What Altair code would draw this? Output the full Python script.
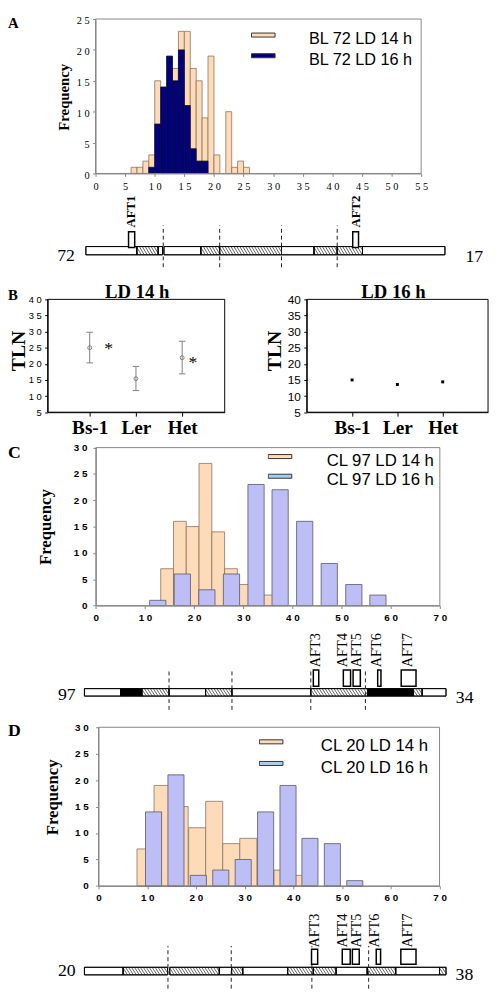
import altair as alt
import pandas as pd

# ====================== DATA ======================
# A : BL 72, leaf-number histogram (bins 1 leaf wide, left edge listed)
A_bins_14h = [6, 7, 8, 9, 10, 13, 14, 15, 16, 17, 18, 19, 20, 22, 23, 24, 25]
A_freq_14h = [1, 1, 2, 3, 15, 17, 23, 23, 17, 15, 9, 19, 3, 10, 1, 2, 1]
A_bins_16h = [9, 10, 11, 12, 13, 14, 15, 16, 17, 18]
A_freq_16h = [1, 8, 14, 19, 15, 20, 11, 4, 2, 2]
A_binwidth = 1
A_series = ["BL 72 LD 14 h", "BL 72 LD 16 h"]
A_xticks = list(range(0, 56, 5))
A_yticks = list(range(0, 26, 5))

# B : TLN of parental / heterozygous lines
B_lines = ["Bs-1", "Ler", "Het"]
B_titles = ["LD 14 h", "LD 16 h"]
B14_mean = [25.0, 15.4, 21.9]
B14_low = [20.3, 11.7, 16.9]
B14_high = [29.8, 19.2, 27.0]
B14_star_pos = [1.41, 3.23]
B14_star_val = [25.7, 21.4]
B16_mean = [15.0, 13.6, 14.4]
B_yticks = list(range(5, 41, 5))

# C : CL 97
C_bins_14h = [13.2, 15.8, 18.4, 21.0, 23.6, 26.2, 28.8, 34.0]
C_freq_14h = [7, 16, 15, 27, 14, 7, 4, 2]
C_binwidth_14h = 2.6
C_mid_16h = [12.6, 17.6, 22.6, 27.6, 32.6, 37.5, 42.5, 47.5, 52.5, 57.4]
C_freq_16h = [1, 6, 3, 6, 23, 22, 16, 8, 4, 2]
C_series = ["CL 97 LD 14 h", "CL 97 LD 16 h"]

# D : CL 20
D_bins_14h = [7.9, 11.4, 14.9, 18.5, 22.0, 25.5, 29.0, 36.0, 39.5]
D_freq_14h = [7, 19, 15, 11, 16, 8, 9, 3, 2]
D_binwidth_14h = 3.5
D_mid_16h = [11.3, 15.9, 20.5, 25.1, 29.7, 34.3, 38.9, 43.4, 48.0, 52.6]
D_freq_16h = [14, 21, 2, 3, 5, 14, 19, 9, 8, 1]
D_series = ["CL 20 LD 14 h", "CL 20 LD 16 h"]
CD_xticks = list(range(0, 71, 10))
CD_yticks = list(range(0, 31, 5))

# Chromosome schematics (position in % of bar length)
A_seg_from = [0.4, 14.5, 20.4, 22.0, 32.2, 37.4, 54.5, 63.5, 69.9, 76.9]
A_seg_to = [14.5, 20.4, 21.6, 32.2, 37.4, 54.5, 63.5, 69.9, 76.9, 99.7]
A_seg_kind = ["open", "hatch", "open", "open", "hatch", "hatch", "open", "hatch", "hatch", "open"]
A_breaks = [21.8, 37.4, 54.5, 69.9]
A_aft = ["AFT1", "AFT2"]
A_aft_from = [12.2, 74.2]
A_aft_to = [13.9, 75.8]
A_aft_label = [12.9, 75.2]
A_ends = ["72", "17"]

C_seg_from = [0, 10.0, 15.9, 23.4, 33.5, 40.8, 62.6, 78.4, 90.9, 93.4]
C_seg_to = [10.0, 15.9, 23.4, 33.5, 40.8, 62.6, 78.4, 90.9, 93.4, 100]
C_seg_kind = ["open", "solid", "hatch", "open", "hatch", "open", "hatch", "solid", "hatch", "open"]
C_breaks = [23.4, 40.8, 62.6, 77.7]
C_aft = ["AFT3", "AFT4", "AFT5", "AFT6", "AFT7"]
C_aft_from = [63.3, 71.6, 74.3, 81.1, 87.6]
C_aft_to = [64.8, 73.6, 76.3, 82.0, 91.7]
C_aft_label = [64.0, 71.4, 75.4, 80.8, 89.6]
C_ends = ["97", "34"]

D_seg_from = [0, 10.7, 23.6, 37.3, 40.7, 43.8, 56.2, 63.3, 69.6, 78.2, 86.1, 98.2]
D_seg_to = [10.7, 23.0, 37.3, 40.7, 43.8, 56.2, 63.3, 69.6, 78.2, 86.1, 98.2, 100]
D_seg_kind = ["open", "hatch", "hatch", "open", "hatch", "open", "hatch", "hatch", "open", "hatch", "open", "hatch"]
D_breaks = [23.1, 40.6, 62.9, 78.6]
D_aft = ["AFT3", "AFT4", "AFT5", "AFT6", "AFT7"]
D_aft_from = [62.8, 71.3, 74.1, 80.7, 87.5]
D_aft_to = [64.5, 73.5, 76.0, 81.9, 91.7]
D_aft_label = [63.7, 71.4, 75.5, 80.5, 89.6]
D_ends = ["20", "38"]

# ====================== LAYOUT / STYLE ======================
W, H = 490, 989
SERIF = "Liberation Serif"
SANS = "Liberation Sans"
SPACED = "length(datum.label) > 1 ? slice(datum.label, 0, 1) + ' ' + slice(datum.label, 1) : datum.label"
TAN, TAN_EDGE = "#FDDBB8", "#8A7461"
NAVY, NAVY_EDGE = "#000080", "#111111"
LAV, LAV_EDGE = "#BEBEF6", "#55556a"
SKY = "#A8CDF2"
AXGRAY = "#868686"
SWATCH = "M-1,-0.52H1V-0.18H-1Z"
COL16_W = 3.3  # drawn column width for the LD16 series in C/D

A_X, A_Y = [89, 420], [160, 3]
B1_X, B2_X, B_Y = [40.3, 220.3], [303.7, 488], [402.7, 288]
B1_DOM, B2_DOM = [0.09, 3.92], [0.0, 4.0]
C_X, C_Y = [89.3, 439], [599.3, 438.7]
D_X, D_Y = [92, 438.7], [884.3, 723]
CH_X = [77.7, 445.3]


def sc(dom, rng):
    return alt.Scale(domain=dom, range=rng, nice=False, zero=False)


def one(**kw):
    return pd.DataFrame({k: [v] for k, v in kw.items()})


def letter(t, y, size):
    return alt.Chart(one(t=t)).mark_text(
        font=SERIF, fontWeight="bold", fontSize=size, align="left", baseline="alphabetic", color="black"
    ).encode(x=alt.value(0), y=alt.value(y), text="t:N")


def hist_panel(bars, series, fills, strokes, leg_fills, xdom, ydom, xr, yr,
               xaxis, yaxis, legend, let, let_y, let_size):
    xs, ys = sc(xdom, xr), sc(ydom, yr)
    # the layer carrying the axes comes first
    hist = alt.Chart(bars).mark_rect(strokeWidth=0.8).encode(
        x=alt.X("lo:Q", scale=xs, axis=alt.Axis(**xaxis)),
        x2="hi:Q",
        y=alt.Y("n:Q", scale=ys, axis=alt.Axis(**yaxis)),
        y2=alt.Y2(datum=0),
        color=alt.Color("series:N", scale=alt.Scale(domain=series, range=fills), legend=None),
        stroke=alt.Stroke("series:N", scale=alt.Scale(domain=series, range=strokes), legend=None),
    )
    frame = alt.Chart(one(k=0)).mark_rect(fillOpacity=0, stroke=AXGRAY, strokeWidth=1).encode(
        x=alt.X(datum=xdom[0], type="quantitative", scale=xs),
        x2=alt.X2(datum=xdom[1]),
        y=alt.Y(datum=ydom[0], type="quantitative", scale=ys),
        y2=alt.Y2(datum=ydom[1]),
    )
    leg = alt.Chart(pd.DataFrame({"series": series})).mark_square(
        stroke="#333333", strokeWidth=1, opacity=1
    ).encode(
        color=alt.Color("series:N", scale=alt.Scale(domain=series, range=leg_fills),
                        legend=alt.Legend(**legend))
    ).transform_filter("false")
    return alt.layer(hist, frame, leg, letter(let, let_y, let_size)).resolve_scale(
        color="independent", stroke="independent")


def legend_kw(lx, ly, loff, clip, fs):
    return dict(orient="none", legendX=lx, legendY=ly, title=None, symbolType=SWATCH,
                symbolSize=576, symbolStrokeColor="#333333", symbolStrokeWidth=1,
                symbolOpacity=1, labelFont=SANS, labelFontSize=fs, labelColor="black",
                labelOffset=loff, clipHeight=clip, rowPadding=0, padding=0, labelLimit=0)


def axis_kw(orient, offset, values, font, size, weight, color, pad, tick, **extra):
    d = dict(orient=orient, offset=offset, values=values, labelFont=font, labelFontSize=size,
             labelFontWeight=weight, labelColor="black", labelPadding=pad, tickSize=tick,
             tickColor=color, domainColor=color, grid=False, labelOverlap=False,
             labelFlush=False, title=None)
    d.update(extra)
    return d


# ---------- Panel A ----------
A_bars = pd.concat([
    pd.DataFrame({"lo": A_bins_14h, "hi": [b + A_binwidth for b in A_bins_14h],
                  "n": A_freq_14h, "series": A_series[0]}),
    pd.DataFrame({"lo": A_bins_16h, "hi": [b + A_binwidth for b in A_bins_16h],
                  "n": A_freq_16h, "series": A_series[1]}),
], ignore_index=True)
panelA = hist_panel(
    A_bars, A_series, [TAN, NAVY], [TAN_EDGE, NAVY_EDGE], [TAN, NAVY], [0, 55], [0, 25], A_X, A_Y,
    axis_kw("bottom", A_Y[0] - H, A_xticks, SERIF, 10.5, "normal", AXGRAY, 5, 3, labelExpr=SPACED),
    axis_kw("left", -A_X[0], A_yticks, SERIF, 10.5, "normal", AXGRAY, 3.5, 3, labelExpr=SPACED,
            labelOffset=2, title="Frequency", titleFont=SERIF, titleFontSize=15, titleFontWeight="bold",
            titleColor="black", titleAngle=270, titleAlign="center", titleBaseline="middle",
            titleX=-32, titleY=82),
    legend_kw(247, 13.25, 34, 20.5, 16.5), "A", 12, 15)

# ---------- Panel C ----------
C_bars = pd.concat([
    pd.DataFrame({"lo": C_bins_14h, "hi": [b + C_binwidth_14h for b in C_bins_14h],
                  "n": C_freq_14h, "series": C_series[0]}),
    pd.DataFrame({"lo": [m - COL16_W / 2 for m in C_mid_16h], "hi": [m + COL16_W / 2 for m in C_mid_16h],
                  "n": C_freq_16h, "series": C_series[1]}),
], ignore_index=True)
panelC = hist_panel(
    C_bars, C_series, [TAN, LAV], [TAN_EDGE, LAV_EDGE], [TAN, SKY], [0, 70], [0, 30], C_X, C_Y,
    axis_kw("bottom", C_Y[0] - H, CD_xticks, SANS, 10, "bold", AXGRAY, 4, 3, labelExpr=SPACED),
    axis_kw("left", -C_X[0], CD_yticks, SANS, 10, "bold", AXGRAY, 6, 3, labelExpr=SPACED,
            title="Frequency", titleFont=SERIF, titleFontSize=17, titleFontWeight="bold",
            titleColor="black", titleAngle=270, titleAlign="center", titleBaseline="middle",
            titleX=-50.6, titleY=519),
    legend_kw(264, 442, 35, 20, 17), "C", 449, 18)

# ---------- Panel D ----------
D_bars = pd.concat([
    pd.DataFrame({"lo": D_bins_14h, "hi": [b + D_binwidth_14h for b in D_bins_14h],
                  "n": D_freq_14h, "series": D_series[0]}),
    pd.DataFrame({"lo": [m - COL16_W / 2 for m in D_mid_16h], "hi": [m + COL16_W / 2 for m in D_mid_16h],
                  "n": D_freq_16h, "series": D_series[1]}),
], ignore_index=True)
panelD = hist_panel(
    D_bars, D_series, [TAN, LAV], [TAN_EDGE, LAV_EDGE], [TAN, SKY], [0, 70], [0, 30], D_X, D_Y,
    axis_kw("bottom", D_Y[0] - H, CD_xticks, SANS, 10, "bold", AXGRAY, 4, 3, labelExpr=SPACED),
    axis_kw("left", -D_X[0], CD_yticks, SANS, 10, "bold", AXGRAY, 7.5, 3, labelExpr=SPACED,
            title="Frequency", titleFont=SERIF, titleFontSize=17, titleFontWeight="bold",
            titleColor="black", titleAngle=270, titleAlign="center", titleBaseline="middle",
            titleX=-46.7, titleY=793.7),
    legend_kw(255, 731, 38, 22, 17), "D", 732, 18)

# ---------- Panel B ----------
CAT_EXPR = "[''," + ",".join("'%s'" % c for c in B_lines) + "][datum.value]"
B_idx = [1, 2, 3]


def b_frame(xs, ys, dom):
    return alt.Chart(one(k=0)).mark_rect(fillOpacity=0, stroke="black", strokeWidth=1).encode(
        x=alt.X(datum=dom[0], type="quantitative", scale=xs), x2=alt.X2(datum=dom[1]),
        y=alt.Y(datum=5, type="quantitative", scale=ys), y2=alt.Y2(datum=40))


def b_axes(xr, ysize, tx, spaced):
    xa = axis_kw("bottom", B_Y[0] - H, B_idx, SERIF, 19.5, "bold", "black", 2.5, 4, labelExpr=CAT_EXPR)
    extra = {"labelExpr": SPACED} if spaced else {}
    ya = axis_kw("left", -xr[0], B_yticks, SANS, ysize, "normal", "black", 3.5, 3,
                 title="TLN", titleFont=SERIF, titleFontSize=20, titleFontWeight="bold",
                 titleColor="black", titleAngle=270, titleAlign="center", titleBaseline="middle",
                 titleX=tx, titleY=340, **extra)
    return alt.Axis(**xa), alt.Axis(**ya)


def b_title(xs, ys, txt, mid, dx):
    return alt.Chart(one(t=txt)).mark_text(
        font=SERIF, fontWeight="bold", fontSize=19, baseline="alphabetic", align="center", dx=dx, dy=-1,
        color="black").encode(
        x=alt.X(datum=mid, type="quantitative", scale=xs),
        y=alt.Y(datum=40, type="quantitative", scale=ys), text="t:N")


xs1, ys1 = sc(B1_DOM, B1_X), sc([5, 40], B_Y)
ax1x, ax1y = b_axes(B1_X, 9.5, 11 - B1_X[0], True)
B14 = pd.DataFrame({"i": B_idx, "m": B14_mean, "lo": B14_low, "hi": B14_high})
CAP = 0.07
B14_caps = pd.DataFrame({"c0": [i - CAP for i in B_idx] * 2, "c1": [i + CAP for i in B_idx] * 2,
                         "v": B14_low + B14_high})
b1_err = alt.Chart(B14).mark_rule(color="#808080", strokeWidth=1).encode(
    x=alt.X("i:Q", scale=xs1, axis=ax1x), y=alt.Y("lo:Q", scale=ys1, axis=ax1y), y2="hi:Q")
b1_caps = alt.Chart(B14_caps).mark_rule(color="#808080", strokeWidth=1).encode(
    x=alt.X("c0:Q", scale=xs1), x2="c1:Q", y=alt.Y("v:Q", scale=ys1))
b1_pts = alt.Chart(B14).mark_point(shape="circle", filled=False, size=16, color="#808080",
                                   strokeWidth=1, opacity=1).encode(
    x=alt.X("i:Q", scale=xs1), y=alt.Y("m:Q", scale=ys1))
b1_star = alt.Chart(pd.DataFrame({"p": B14_star_pos, "v": B14_star_val, "t": ["*", "*"]})).mark_text(
    font=SERIF, fontSize=18, baseline="alphabetic", align="center", dy=8.5, color="black").encode(
    x=alt.X("p:Q", scale=xs1), y=alt.Y("v:Q", scale=ys1), text="t:N")
panelB1 = alt.layer(b1_err, b_frame(xs1, ys1, B1_DOM), b1_caps, b1_pts, b1_star,
                    b_title(xs1, ys1, B_titles[0], sum(B1_DOM) / 2, 1), letter("B", 289, 15))

xs2, ys2 = sc(B2_DOM, B2_X), sc([5, 40], B_Y)
ax2x, ax2y = b_axes(B2_X, 12, 271.5 - B2_X[0], False)
B16 = pd.DataFrame({"i": B_idx, "m": B16_mean})
b2_pts = alt.Chart(B16).mark_square(size=9, color="black", opacity=1).encode(
    x=alt.X("i:Q", scale=xs2, axis=ax2x), y=alt.Y("m:Q", scale=ys2, axis=ax2y))
panelB2 = alt.layer(b2_pts, b_frame(xs2, ys2, B2_DOM),
                    b_title(xs2, ys2, B_titles[1], sum(B2_DOM) / 2, -4))

# ---------- Chromosome schematics ----------
PX_PER_U = (CH_X[1] - CH_X[0]) / 100.0


def hatch_lines(seg_from, seg_to, seg_kind, run_px=5.0, gap_px=3.0):
    run, gap = run_px / PX_PER_U, gap_px / PX_PER_U
    rows = []
    for a, b, k in zip(seg_from, seg_to, seg_kind):
        if k != "hatch":
            continue
        s = a - run + gap * 0.5
        while s < b:
            xa, xb = max(s, a), min(s + run, b)
            if xb > xa:
                rows.append(dict(hx1=xa, hx2=xb, hy1=1 - (xa - s) / run, hy2=1 - (xb - s) / run))
            s += gap
    return pd.DataFrame(rows)


def chrom_panel(seg_from, seg_to, seg_kind, breaks, aft, aft_from, aft_to, aft_lab, ends, lay):
    xs, ys = sc([0, 100], CH_X), sc([0, 1], lay["yr"])

    def X(f):
        return alt.X(f, scale=xs, axis=None)

    def Yd(v):
        return alt.Y(datum=v, type="quantitative", scale=ys, axis=None)

    seg = pd.DataFrame({"a": seg_from, "b": seg_to, "kind": seg_kind})
    fill = alt.Chart(seg).mark_rect(stroke="black", strokeWidth=0.8).encode(
        x=X("a:Q"), x2="b:Q", y=Yd(0), y2=alt.Y2(datum=1),
        color=alt.Color("kind:N", scale=alt.Scale(domain=["open", "hatch", "solid"],
                                                  range=["white", "white", "black"]), legend=None))
    hatch = alt.Chart(hatch_lines(seg_from, seg_to, seg_kind)).mark_rule(
        color="#222222", strokeWidth=0.7).encode(
        x=X("hx1:Q"), x2="hx2:Q", y=alt.Y("hy1:Q", scale=ys, axis=None), y2="hy2:Q")
    outline = alt.Chart(seg).mark_rect(fillOpacity=0, stroke="black", strokeWidth=1).encode(
        x=X("a:Q"), x2="b:Q", y=Yd(0), y2=alt.Y2(datum=1))
    dash = alt.Chart(pd.DataFrame({"p": breaks})).mark_rule(
        strokeDash=[4, 3], color="#222222", strokeWidth=1).encode(
        x=X("p:Q"), y=Yd(lay["dash"][0]), y2=alt.Y2(datum=lay["dash"][1]))
    loci = pd.DataFrame({"name": aft, "a": aft_from, "b": aft_to, "lab": aft_lab})
    boxes = alt.Chart(loci).mark_rect(fill="white", stroke="black", strokeWidth=1.5).encode(
        x=X("a:Q"), x2="b:Q", y=Yd(lay["rect"][0]), y2=alt.Y2(datum=lay["rect"][1]))
    labels = alt.Chart(loci).mark_text(
        angle=270, align="left", baseline="middle", font=SERIF, fontSize=lay["fs"],
        fontWeight=lay["fw"], color="black").encode(x=X("lab:Q"), y=Yd(lay["lab"]), text="name:N")
    left = alt.Chart(one(t=ends[0])).mark_text(
        font=SERIF, fontSize=18, align="right", baseline="middle", dx=lay["l"][0], dy=lay["l"][1],
        color="black").encode(x=alt.X(datum=0, type="quantitative", scale=xs, axis=None),
                              y=Yd(0.5), text="t:N")
    right = alt.Chart(one(t=ends[1])).mark_text(
        font=SERIF, fontSize=18, align="left", baseline="middle", dx=lay["r"][0], dy=lay["r"][1],
        color="black").encode(x=alt.X(datum=100, type="quantitative", scale=xs, axis=None),
                              y=Yd(0.5), text="t:N")
    return alt.layer(fill, hatch, outline, dash, boxes, labels, left, right)


chromA = chrom_panel(A_seg_from, A_seg_to, A_seg_kind, A_breaks, A_aft, A_aft_from, A_aft_to,
                     A_aft_label, A_ends,
                     dict(yr=[242.7, 234.3], rect=[0.88, 2.79], lab=3.3, dash=[-1.5, 3.57],
                          fs=13, fw="bold", l=(-9.7, 5), r=(19.7, 6.5)))
chromC = chrom_panel(C_seg_from, C_seg_to, C_seg_kind, C_breaks, C_aft, C_aft_from, C_aft_to,
                     C_aft_label, C_ends,
                     dict(yr=[691.3, 683.7], rect=[1.32, 3.5], lab=3.86, dash=[-1.84, 3.63],
                          fs=14.5, fw="normal", l=(-9, 3), r=(10, 6)))
chromD = chrom_panel(D_seg_from, D_seg_to, D_seg_kind, D_breaks, D_aft, D_aft_from, D_aft_to,
                     D_aft_label, D_ends,
                     dict(yr=[974.7, 967.0], rect=[1.39, 3.38], lab=3.6, dash=[-1.82, 3.82],
                          fs=14.5, fw="normal", l=(-9, 0.4), r=(9.7, 4.4)))

chart = alt.layer(
    panelA, chromA, panelB1, panelB2, panelC, chromC, panelD, chromD
).resolve_scale(
    x="independent", y="independent", color="independent", stroke="independent"
).resolve_axis(
    x="independent", y="independent"
).resolve_legend(
    color="independent"
).properties(
    width=W, height=H, padding=0, autosize=alt.AutoSizeParams(type="none")
).configure_view(strokeWidth=0).configure_axis(grid=False)

chart.save("out.html", embed_options={"renderer": "svg", "actions": False})
